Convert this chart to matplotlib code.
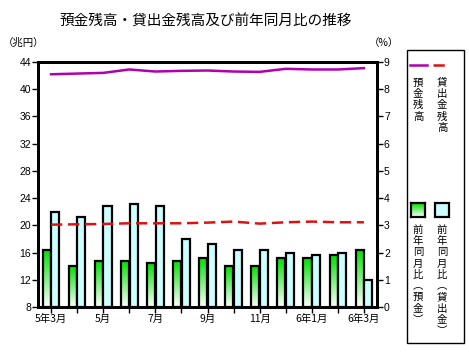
import matplotlib
matplotlib.use("Agg")
import matplotlib.pyplot as plt
import numpy as np
from matplotlib.patches import Rectangle
from matplotlib.lines import Line2D
from matplotlib.colors import LinearSegmentedColormap

plt.rcParams['font.family'] = ['Liberation Sans', 'Noto Sans CJK JP', 'DejaVu Sans']

months = ["5年3月", "4月", "5月", "6月", "7月", "8月", "9月", "10月", "11月", "12月", "6年1月", "2月", "6年3月"]
month_labels = ["5年3月", "", "5月", "", "7月", "", "9月", "", "11月", "", "6年1月", "", "6年3月"]
deposits = [42.2, 42.3, 42.4, 42.9, 42.6, 42.7, 42.75, 42.6, 42.55, 43.0, 42.9, 42.9, 43.1]
loans = [20.1, 20.15, 20.2, 20.3, 20.3, 20.3, 20.4, 20.55, 20.25, 20.45, 20.55, 20.45, 20.45]
dep_yoy = [2.1, 1.5, 1.7, 1.7, 1.6, 1.7, 1.8, 1.5, 1.5, 1.8, 1.8, 1.9, 2.1]
loan_yoy = [3.5, 3.3, 3.7, 3.8, 3.7, 2.5, 2.3, 2.1, 2.1, 2.0, 1.9, 2.0, 1.0]
left_ticks = [8, 12, 16, 20, 24, 28, 32, 36, 40, 44]
right_ticks = [0, 1, 2, 3, 4, 5, 6, 7, 8, 9]

W, H = 469, 363
fig = plt.figure(figsize=(W / 100, H / 100), dpi=100)
ax = fig.add_axes([38 / W, 1 - 307 / H, (377 - 38) / W, (307 - 62) / H])
ax2 = ax.twinx()

x = np.arange(len(months))
bw = 0.31
green_bars = ax2.bar(x - bw / 2 - 0.01, dep_yoy, width=bw, facecolor='none', edgecolor='black', linewidth=1.6, zorder=3)
cyan_bars = ax2.bar(x + bw / 2 + 0.01, loan_yoy, width=bw, facecolor='#ccffff', edgecolor='black', linewidth=1.6, zorder=3)

grad = np.linspace(0, 1, 100).reshape(-1, 1)
gcmap = LinearSegmentedColormap.from_list('g', ['#ffffff', '#00e000'])
for b in green_bars:
    x0 = b.get_x()
    im = ax2.imshow(grad, cmap=gcmap, extent=[x0, x0 + b.get_width(), 0, b.get_height()],
                    origin='lower', aspect='auto', zorder=2, interpolation='bilinear')
    im.set_clip_path(b)

dash = (0, (4.5, 2.3))
ax.plot(x, deposits, color='#b000b0', linewidth=1.8, zorder=5)
ax.plot(x, loans, color='#dd1111', linewidth=1.8, linestyle=dash, zorder=5)

ax.set_zorder(ax2.get_zorder() + 1)
ax.patch.set_visible(False)

ax.set_xlim(-0.5, 12.5)
ax.set_ylim(8, 44)
ax2.set_ylim(0, 9)
ax.set_yticks(left_ticks)
ax2.set_yticks(right_ticks)
ax.set_xticks(x)
ax.set_xticklabels(month_labels, fontsize=7.5, family=['Noto Sans CJK JP'])
ax.tick_params(axis='y', labelsize=7.5, direction='out', length=4, width=1, pad=1)
ax2.tick_params(axis='y', labelsize=7.5, direction='out', length=4, width=1, pad=1)
ax.tick_params(axis='x', direction='out', length=4, width=1, pad=1)
for a in (ax, ax2):
    for s in a.spines.values():
        s.set_linewidth(2)

fig.text(206 / W, 1 - 22 / H, "預金残高・貸出金残高及び前年同月比の推移", ha='center', va='center',
         fontsize=10.5, family=['Noto Sans CJK JP'])
fig.text(3 / W, 1 - 43 / H, "（兆円）", ha='left', va='center', fontsize=7.5, family=['Noto Sans CJK JP'])
fig.text(384 / W, 1 - 43 / H, "（%）", ha='center', va='center', fontsize=7.5, family=['Noto Sans CJK JP'])

# legend box
box = Rectangle((407 / W, 1 - 343 / H), (464 - 407) / W, (343 - 50) / H,
                transform=fig.transFigure, facecolor='none', edgecolor='black', linewidth=1, zorder=0)
fig.patches.append(box)
fig.lines.append(Line2D([410 / W, 427 / W], [1 - 65 / H] * 2, transform=fig.transFigure, color='#b000b0', linewidth=1.8))
fig.lines.append(Line2D([433 / W, 450 / W], [1 - 65 / H] * 2, transform=fig.transFigure, color='#dd1111', linewidth=1.8,
                        linestyle=dash))

def vtext(xc, ytop, chars):
    step = 11.3
    for i, c in enumerate(chars):
        fig.text(xc / W, 1 - (ytop + step * i + step / 2) / H, c, ha='center', va='center', fontsize=7.5,
                 family=['Noto Sans CJK JP'])

vtext(418, 77, list("預金残高"))
vtext(442, 77, list("貸出金残高"))

# green gradient legend patch
lax = fig.add_axes([411 / W, 1 - 217 / H, 14 / W, 14 / H])
lax.imshow(grad, cmap=gcmap, extent=[0, 1, 0, 1], origin='lower', aspect='auto', interpolation='bilinear')
lax.set_xlim(0, 1); lax.set_ylim(0, 1)
lax.set_xticks([]); lax.set_yticks([])
for s in lax.spines.values():
    s.set_linewidth(1.6)
fig.patches.append(Rectangle((435 / W, 1 - 217 / H), 14 / W, 14 / H, transform=fig.transFigure,
                             facecolor='#ccffff', edgecolor='black', linewidth=1.6))

vtext(418, 224, ["前", "年", "同", "月", "比", "︵", "預", "金", "︶"])
vtext(442, 224, ["前", "年", "同", "月", "比", "︵", "貸", "出", "金", "︶"])

fig.savefig("out.png", dpi=100)
